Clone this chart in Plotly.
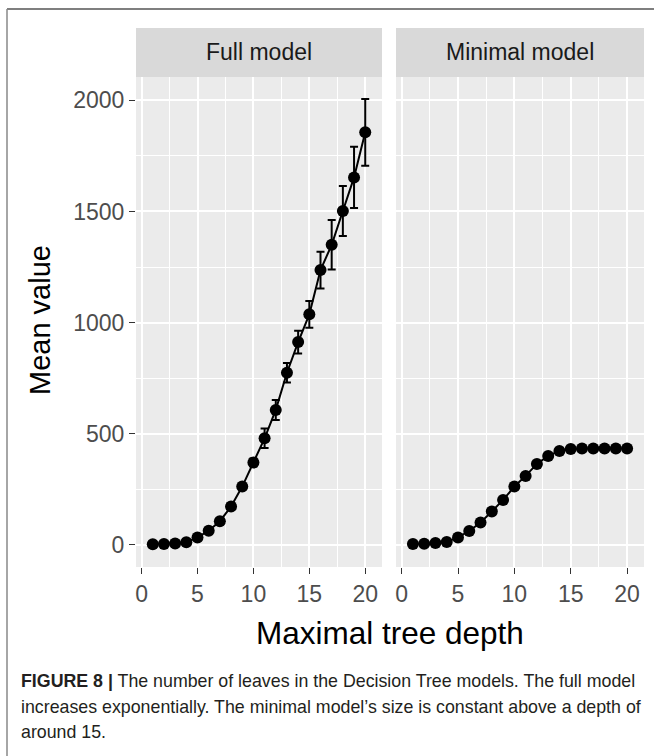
import plotly.graph_objects as go

# ---- data ----
depth = list(range(1, 21))
full_mean = [2, 4, 6, 11, 33, 63, 106, 172, 262, 370, 479, 607, 774, 912, 1037, 1236, 1350, 1502, 1653, 1856]
full_err = [0.5, 1, 1, 2, 4, 6, 8, 10, 12, 18, 44, 45, 44, 51, 60, 83, 111, 112, 138, 150]
min_mean = [3, 5, 8, 13, 33, 62, 100, 150, 202, 262, 310, 364, 400, 422, 431, 433, 433, 433, 433, 433]
min_err = [0.5, 1, 1, 2, 3, 4, 5, 6, 7, 7, 7, 6, 5, 4, 3, 2, 2, 2, 2, 2]
panels = ["Full model", "Minimal model"]
x_ticks = [0, 5, 10, 15, 20]
y_ticks = [0, 500, 1000, 1500, 2000]

W, H = 654, 756
def py(px):
    return 1 - px / H
def pxx(px):
    return px / W

fig = go.Figure()
for i, (m, e) in enumerate([(full_mean, full_err), (min_mean, min_err)]):
    ax = "" if i == 0 else "2"
    fig.add_trace(go.Scatter(
        x=depth, y=m, mode="lines+markers",
        line=dict(color="black", width=2),
        marker=dict(color="black", size=12),
        error_y=dict(type="data", array=e, visible=True, color="black", thickness=2, width=4),
        xaxis="x" + ax, yaxis="y" + ax, showlegend=False, hoverinfo="skip",
    ))

panel_y = [py(567), py(77)]
xdom = [[pxx(136), pxx(382)], [pxx(396), pxx(644)]]

axis_common = dict(
    range=[-0.5, 21.5], tickvals=x_ticks, ticks="outside", ticklen=6, tickwidth=1.2,
    tickcolor="#333333", showgrid=True, gridcolor="white", gridwidth=2,
    zeroline=False, showline=False,
    tickfont=dict(family="Liberation Sans, Arial", size=23, color="#4D4D4D"),
    minor=dict(tickvals=[2.5, 7.5, 12.5, 17.5], showgrid=True, gridcolor="white", gridwidth=1, ticks=""),
)
yaxis_common = dict(
    range=[-100, 2105], tickvals=y_ticks, showgrid=True, gridcolor="white", gridwidth=2,
    zeroline=False, showline=False, domain=panel_y,
    minor=dict(tickvals=[250, 750, 1250, 1750], showgrid=True, gridcolor="white", gridwidth=1, ticks=""),
)

fig.update_layout(
    width=W, height=H, margin=dict(l=0, r=0, t=0, b=0),
    paper_bgcolor="white", plot_bgcolor="#EBEBEB",
    xaxis=dict(domain=xdom[0], anchor="y", **axis_common),
    xaxis2=dict(domain=xdom[1], anchor="y2", **axis_common),
    yaxis=dict(anchor="x", ticks="outside", ticklen=6, tickwidth=1.2, tickcolor="#333333",
               tickfont=dict(family="Liberation Sans, Arial", size=23, color="#4D4D4D"),
               **yaxis_common),
    yaxis2=dict(anchor="x2", matches="y", showticklabels=False, ticks="", **yaxis_common),
)

shapes = []
annotations = []
# strips
for i, name in enumerate(panels):
    shapes.append(dict(type="rect", xref="paper", yref="paper",
                       x0=xdom[i][0], x1=xdom[i][1], y0=py(77), y1=py(28),
                       fillcolor="#D9D9D9", line=dict(width=0), layer="below"))
    annotations.append(dict(text=name, xref="paper", yref="paper",
                            x=(xdom[i][0] + xdom[i][1]) / 2, y=py(52),
                            xanchor="center", yanchor="middle", showarrow=False,
                            font=dict(family="Liberation Sans, Arial", size=23, color="#1A1A1A")))
# border
shapes.append(dict(type="line", xref="paper", yref="paper", x0=pxx(7), x1=1.01, y0=py(9), y1=py(9),
                   line=dict(color="#555555", width=1.5)))
shapes.append(dict(type="line", xref="paper", yref="paper", x0=pxx(7), x1=pxx(7), y0=py(9), y1=-0.01,
                   line=dict(color="#888888", width=1.5)))

# axis titles
annotations.append(dict(text="Maximal tree depth", xref="paper", yref="paper",
                        x=pxx(390), y=py(633), xanchor="center", yanchor="middle", showarrow=False,
                        font=dict(family="Liberation Sans, Arial", size=31.5, color="black")))
annotations.append(dict(text="Mean value", xref="paper", yref="paper", textangle=-90,
                        x=pxx(40), y=py(320), xanchor="center", yanchor="middle", showarrow=False,
                        font=dict(family="Liberation Sans, Arial", size=29, color="black")))

# caption
caption = [
    "<b>FIGURE 8 |</b> The number of leaves in the Decision Tree models. The full model",
    "increases exponentially. The minimal model\u2019s size is constant above a depth of",
    "around 15.",
]
for k, line in enumerate(caption):
    annotations.append(dict(text=line, xref="paper", yref="paper",
                            x=pxx(19), y=py(681 + 25.5 * k), xanchor="left", yanchor="middle",
                            showarrow=False,
                            font=dict(family="Liberation Sans, Arial", size=17.8, color="#231F20")))

fig.update_layout(shapes=shapes, annotations=annotations)
fig.write_html("out.html")
